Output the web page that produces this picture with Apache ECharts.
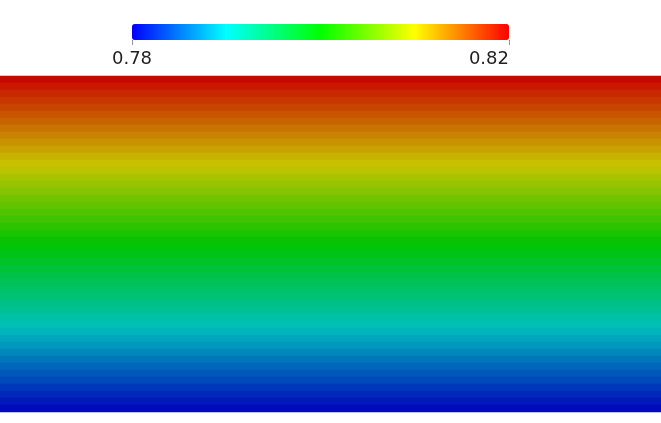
<!DOCTYPE html>
<html>
<head>
<meta charset="utf-8">
<script src="https://cdn.jsdelivr.net/npm/echarts@6/dist/echarts.min.js"></script>
<style>
  html, body { margin: 0; padding: 0; background: #fff; }
  #chart { width: 661px; height: 423px; }
</style>
</head>
<body>
<div id="chart"></div>
<script>
// field value per horizontal band, top to bottom
const fieldValues = [
  0.8196, 0.8188, 0.8180, 0.8172, 0.8165, 0.8157, 0.8149, 0.8141,
  0.8133, 0.8125, 0.8117, 0.8109, 0.8102, 0.8093, 0.8084, 0.8075,
  0.8066, 0.8057, 0.8048, 0.8040, 0.8031, 0.8022, 0.8013, 0.8004,
  0.7996, 0.7987, 0.7979, 0.7970, 0.7962, 0.7954, 0.7945, 0.7937,
  0.7929, 0.7920, 0.7912, 0.7904, 0.7895, 0.7887, 0.7879, 0.7871,
  0.7862, 0.7854, 0.7846, 0.7838, 0.7829, 0.7821, 0.7813, 0.7805
]
const columns = ['field']
const colorbarTicks = ['0.78', '0.82']
const rangeMin = 0.78
const rangeMax = 0.82

const brightColors = ['#0000ff', '#00ffff', '#00ff00', '#ffff00', '#ff0000']
const shadedColors = ['#0000bb', '#00c0bc', '#00c400', '#c8c400', '#c80000']

const rows = fieldValues.map((v, i) => 'r' + i)
const heatData = fieldValues.map((v, i) => [0, i, v])

const chart = echarts.init(document.getElementById('chart'))
chart.setOption({
  animation: false,
  grid: [
    // 48 rows x 7px so band edges land on whole pixels
    { left: 0, right: 0, top: 76, height: 336 },
    { left: 132, width: 377, top: 24, height: 16 }
  ],
  xAxis: [
    { type: 'category', gridIndex: 0, data: columns, show: false },
    {
      type: 'category',
      gridIndex: 1,
      data: colorbarTicks,
      boundaryGap: false,
      axisLine: { show: false },
      axisTick: { show: true, length: 5, lineStyle: { color: '#9a8ab0' } },
      axisLabel: {
        margin: 10,
        fontFamily: 'DejaVu Sans',
        fontSize: 18,
        color: '#222',
        alignMinLabel: 'center',
        alignMaxLabel: 'right'
      }
    }
  ],
  yAxis: [
    { type: 'category', gridIndex: 0, data: rows, inverse: true, show: false },
    { type: 'value', gridIndex: 1, show: false }
  ],
  visualMap: [
    {
      type: 'continuous',
      seriesIndex: 1,
      min: rangeMin,
      max: rangeMax,
      orient: 'horizontal',
      left: 132,
      top: 24,
      padding: 0,
      itemWidth: 16,
      itemHeight: 377,
      calculable: false,
      hoverLink: false,
      text: null,
      showLabel: false,
      inRange: { color: brightColors }
    },
    {
      type: 'continuous',
      seriesIndex: 0,
      min: rangeMin,
      max: rangeMax,
      show: false,
      inRange: { color: shadedColors }
    }
  ],
  series: [
    {
      type: 'heatmap',
      xAxisIndex: 0,
      yAxisIndex: 0,
      data: heatData,
      itemStyle: { borderWidth: 0 },
      emphasis: { disabled: true }
    },
    {
      type: 'line',
      xAxisIndex: 1,
      yAxisIndex: 1,
      data: []
    }
  ]
})
</script>
</body>
</html>
